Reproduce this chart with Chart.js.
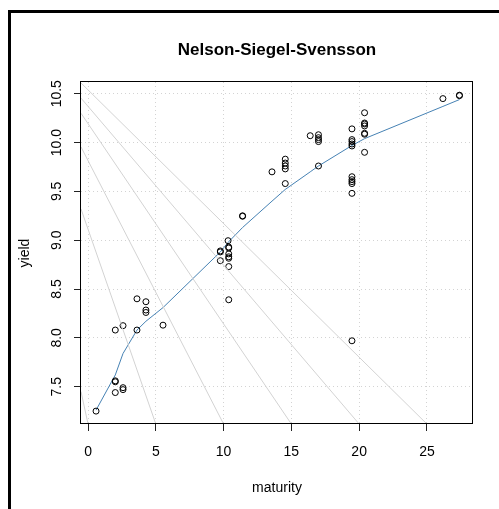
<!DOCTYPE html>
<html>
<head>
<meta charset="utf-8">
<script src="https://cdn.jsdelivr.net/npm/chart.js@4/dist/chart.umd.min.js"></script>
<style>
  html, body { margin: 0; padding: 0; background: #fff; overflow: hidden; }
  canvas { display: block; }
</style>
</head>
<body>
<canvas id="chartEl" width="499" height="509"></canvas>
<script>
// observed bonds (maturity / yield)
const maturity = [
  0.59,
  2.01, 2.01, 2.01, 2.01,
  2.58, 2.58, 2.58,
  3.61, 3.61,
  4.27, 4.27, 4.27,
  5.53,
  9.76, 9.76, 9.76,
  10.33,
  10.38, 10.38, 10.38, 10.38, 10.38, 10.38, 10.38,
  11.40, 11.40,
  13.57,
  14.55, 14.55, 14.55, 14.55, 14.55,
  16.39,
  17.0, 17.0, 17.0, 17.0, 17.0,
  19.47, 19.47, 19.47, 19.47, 19.47, 19.47, 19.47, 19.47, 19.47, 19.47, 19.47,
  20.4, 20.4, 20.4, 20.4, 20.4, 20.4, 20.4,
  26.18,
  27.4, 27.4
]
const yieldObs = [
  7.25,
  7.56, 7.55, 7.44, 8.08,
  7.49, 7.47, 8.125,
  8.40, 8.08,
  8.37, 8.285, 8.26,
  8.13,
  8.88, 8.89, 8.79,
  8.995,
  8.93, 8.92, 8.86, 8.83, 8.815, 8.73, 8.39,
  9.25, 9.245,
  9.70,
  9.83, 9.79, 9.76, 9.73, 9.58,
  10.07,
  10.08, 10.05, 10.03, 10.01, 9.76,
  10.14, 10.03, 10.01, 9.985, 9.965, 9.65, 9.62, 9.60, 9.58, 9.48, 7.97,
  10.305, 10.20, 10.19, 10.17, 10.095, 10.085, 9.90,
  10.45,
  10.48, 10.485
]

// fitted curve
const fitMaturity = [0.59, 2.01, 2.58, 3.61, 4.27, 5.53, 9.76, 10.35, 11.40, 13.57, 14.55, 16.39, 17.0, 19.47, 20.4, 26.18, 27.4]
const fitYield = [7.26, 7.62, 7.84, 8.08, 8.17, 8.31, 8.88, 8.98, 9.13, 9.40, 9.52, 9.70, 9.76, 9.97, 10.04, 10.37, 10.44]

// grey guide lines: height at the left edge, maturity where they hit the bottom
const guideStart = [10.61, 10.455, 10.30, 9.955, 9.32, 7.45]
const guideEnd = [25, 20, 15, 10, 5, 0]

const xTicks = [0, 5, 10, 15, 20, 25]
const yTicks = [7.5, 8, 8.5, 9, 9.5, 10, 10.5]
const xRange = [-0.52, 28.4]
const yRange = [7.118, 10.62]

Chart.defaults.font.family = '"Liberation Sans", Arial, sans-serif'
Chart.defaults.color = '#000'

/* cadre extérieur + boîte du graphique */
const framePlugin = {
  id: 'frame',
  beforeDraw(chart) {
    const ctx = chart.ctx
    ctx.save()
    ctx.fillStyle = '#fff'
    ctx.fillRect(0, 0, chart.width, chart.height)
    ctx.fillStyle = '#000'
    ctx.fillRect(8, 10, chart.width, 3)
    ctx.fillRect(8, 10, 3, chart.height)
    ctx.restore()
  },
  afterDatasetsDraw(chart) {
    const { ctx, chartArea: ca } = chart
    ctx.save()
    ctx.strokeStyle = '#000'
    ctx.lineWidth = 1
    ctx.strokeRect(ca.left - 0.5, ca.top - 0.5, ca.width, ca.height)
    ctx.restore()
  }
}

const guideSets = guideStart.map((y0, i) => ({
  type: 'line',
  data: [{ x: xRange[0], y: y0 }, { x: guideEnd[i], y: yRange[0] }],
  borderColor: '#d3d3d3',
  borderWidth: 1,
  pointRadius: 0,
  showLine: true
}))

const datasets = [
  ...guideSets,
  {
    data: maturity.map((m, i) => ({ x: m, y: yieldObs[i] })),
    pointStyle: 'circle',
    pointRadius: 3,
    borderColor: '#000',
    backgroundColor: 'rgba(0,0,0,0)',
    borderWidth: 1,
    showLine: false
  },
  {
    type: 'line',
    data: fitMaturity.map((m, i) => ({ x: m, y: fitYield[i] })),
    borderColor: '#4682b4',
    borderWidth: 1,
    pointRadius: 0,
    showLine: true
  }
]

const gridOpts = { color: '#d3d3d3', lineWidth: 1, tickLength: 7, tickColor: '#222', tickWidth: 1 }

new Chart(document.querySelector('#chartEl'), {
  type: 'scatter',
  data: { datasets },
  plugins: [framePlugin],
  options: {
    responsive: false,
    animation: false,
    devicePixelRatio: 1,
    events: [],
    layout: { padding: { top: 0, left: 0, right: 26, bottom: 0 } },
    plugins: {
      legend: { display: false },
      tooltip: { enabled: false },
      title: {
        display: true,
        text: 'Nelson-Siegel-Svensson',
        fullSize: false,
        font: { size: 17, weight: 'bold' },
        color: '#000',
        padding: { top: 40, bottom: 21.6 }
      }
    },
    scales: {
      x: {
        type: 'linear',
        position: 'bottom',
        min: xRange[0],
        max: xRange[1],
        afterBuildTicks: s => { s.ticks = xTicks.map(v => ({ value: v })) },
        afterFit: s => { s.height = 85 },
        ticks: { font: { size: 14 }, color: '#000', padding: 13, autoSkip: false, maxRotation: 0 },
        grid: gridOpts,
        border: { display: false, dash: [1, 3] },
        title: { display: true, text: 'maturity', font: { size: 14 }, color: '#000', padding: { top: 0, bottom: 12 } }
      },
      y: {
        type: 'linear',
        position: 'left',
        min: yRange[0],
        max: yRange[1],
        afterBuildTicks: s => { s.ticks = yTicks.map(v => ({ value: v })) },
        afterFit: s => { s.width = 81 },
        ticks: {
          font: { size: 14 }, color: '#000', padding: 3, autoSkip: false,
          minRotation: 90, maxRotation: 90, crossAlign: 'center',
          callback: v => v.toFixed(1)
        },
        grid: gridOpts,
        border: { display: false, dash: [1, 3] },
        title: { display: true, text: 'yield', font: { size: 14 }, color: '#000', padding: { top: 16.6, bottom: 0 } }
      }
    }
  }
})
</script>
</body>
</html>
